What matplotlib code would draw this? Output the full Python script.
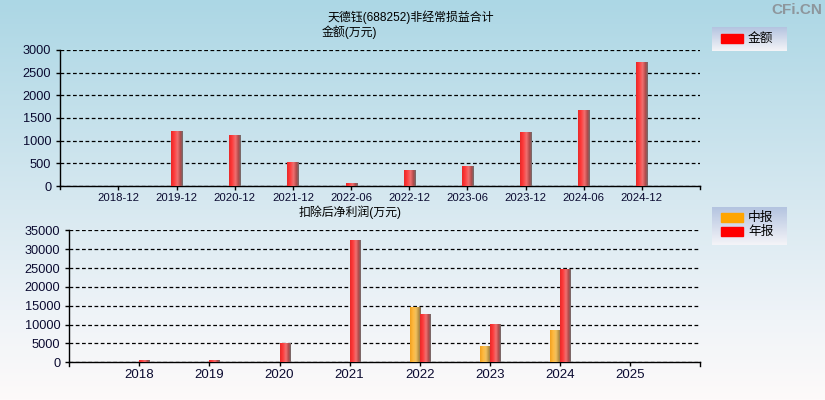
import numpy as np
import matplotlib
matplotlib.use("Agg")
import matplotlib.pyplot as plt
from matplotlib.colors import LinearSegmentedColormap
from matplotlib.patches import Rectangle

plt.rcParams['font.family'] = ['Liberation Sans', 'Noto Sans CJK SC', 'DejaVu Sans']

# ---------------- data ----------------
title_text = "天德钰(688252)非经常损益合计"
top_ylabel = "金额(万元)"
top_categories = ["2018-12", "2019-12", "2020-12", "2021-12", "2022-06",
                  "2022-12", "2023-06", "2023-12", "2024-06", "2024-12"]
top_values = [0, 1215, 1125, 530, 65, 355, 450, 1190, 1675, 2735]
top_legend = "金额"
top_yticks = [0, 500, 1000, 1500, 2000, 2500, 3000]

bottom_ylabel = "扣除后净利润(万元)"
years = ["2018", "2019", "2020", "2021", "2022", "2023", "2024", "2025"]
mid_values = [0, 0, 0, 0, 14650, 4300, 8550, 0]      # 中报
annual_values = [600, 600, 5100, 32400, 12800, 10100, 24750, 0]  # 年报
bottom_legend = ["中报", "年报"]
bottom_yticks = [0, 5000, 10000, 15000, 20000, 25000, 30000, 35000]

# ---------------- style ----------------
W, H = 825, 400
fig = plt.figure(figsize=(W / 100, H / 100), dpi=100)

# background gradient
bg = fig.add_axes([0, 0, 1, 1], zorder=-10)
stops_y = np.array([0, 200, 320, 400]) / 400.0
stops_c = np.array([[172, 215, 229], [214, 232, 240], [240, 244, 248], [253, 250, 250]]) / 255.0
yy = np.linspace(0, 1, 400)
grad = np.stack([np.interp(yy, stops_y, stops_c[:, k]) for k in range(3)], axis=1)
bg.imshow(grad[:, None, :], aspect='auto', extent=(0, 1, 0, 1), origin='upper')
bg.set_axis_off()

red_cmap = LinearSegmentedColormap.from_list(
    "redcyl", [(0.0, "#e82828"), (0.25, "#ff3a3a"), (0.55, "#f07070"),
               (0.8, "#b04848"), (1.0, "#707070")])
org_cmap = LinearSegmentedColormap.from_list(
    "orgcyl", [(0.0, "#f0a020"), (0.3, "#ffba40"), (0.55, "#f0c060"),
               (0.8, "#b89040"), (1.0, "#807060")])


def grad_bar(ax, x, h, w, cmap, align='center'):
    if h <= 0:
        return
    bars = ax.bar([x], [h], width=w, align=align, color='none', linewidth=0, zorder=3)
    r = bars[0]
    x0 = r.get_x()
    x1 = x0 + r.get_width()
    g = np.linspace(0, 1, 64)[None, :]
    im = ax.imshow(g, cmap=cmap, aspect='auto', extent=(x0, x1, 0, h),
                   zorder=3, interpolation='bilinear')
    im.set_clip_path(r)


def style_axes(ax):
    ax.set_facecolor('none')
    for s in ['top', 'right']:
        ax.spines[s].set_visible(False)
    for s in ['left', 'bottom']:
        ax.spines[s].set_color('black')
        ax.spines[s].set_linewidth(1.0)
    ax.tick_params(axis='both', direction='out', length=3, width=1,
                   colors='black', labelcolor='#0a0a30')
    ax.yaxis.grid(True, linestyle=(0, (3, 2)), color='black', linewidth=0.9)
    ax.set_axisbelow(True)


# ---------------- top chart ----------------
ax1 = fig.add_axes([60.3 / W, 1 - 186 / H, (700 - 60.3) / W, (186 - 50) / H])
style_axes(ax1)
xs = np.arange(len(top_categories))
for x, v in zip(xs, top_values):
    grad_bar(ax1, x, v, 0.19, red_cmap)
ax1.set_xlim(-1, len(top_categories))
ax1.set_ylim(0, 3000)
ax1.set_yticks(top_yticks)
ax1.set_xticks(xs)
ax1.set_xticklabels(top_categories, fontsize=8.2)
ax1.tick_params(axis='y', labelsize=9.2)
ax1.tick_params(axis='x', pad=2)
for xe in [-1, len(top_categories)]:
    ax1.plot([xe, xe], [0, -3000 * 3 / 136], color='black', lw=1, clip_on=False, zorder=5)

# ---------------- bottom chart ----------------
ax2 = fig.add_axes([69.3 / W, 1 - 362.3 / H, (700 - 69.3) / W, (362.3 - 230.3) / H])
style_axes(ax2)
xb = np.arange(len(years))
bw = 0.145
for x, m, a in zip(xb, mid_values, annual_values):
    grad_bar(ax2, x - bw, m, bw, org_cmap, align='edge')
    grad_bar(ax2, x, a, bw, red_cmap, align='edge')
ax2.set_xlim(-1, len(years))
ax2.set_ylim(0, 35000)
ax2.set_yticks(bottom_yticks)
ax2.set_xticks(xb)
ax2.set_xticklabels(years, fontsize=9.5)
ax2.tick_params(axis='y', labelsize=9.2)
ax2.tick_params(axis='x', pad=2)
for xe in [-1, len(years)]:
    ax2.plot([xe, xe], [0, -35000 * 4 / 132], color='black', lw=1, clip_on=False, zorder=5)

# ---------------- texts ----------------
fig.text(411 / W, 1 - 17 / H, title_text, ha='center', va='center', fontsize=8.6)
fig.text(349 / W, 1 - 32 / H, top_ylabel, ha='center', va='center', fontsize=8.6)
fig.text(350 / W, 1 - 212 / H, bottom_ylabel, ha='center', va='center', fontsize=8.6)
fig.text(822 / W, 1 - 10 / H, "CFi.CN", ha='right', va='center', fontsize=11,
         fontweight='bold', color='#8e969c')

# ---------------- legends ----------------
lax = fig.add_axes([0, 0, 1, 1], zorder=20)
lax.set_xlim(0, W)
lax.set_ylim(H, 0)
lax.set_axis_off()
lax.patch.set_alpha(0)


def legend_box(x0, y0, x1, y1):
    lg = np.linspace(0, 1, 50)
    c = np.stack([np.interp(lg, [0, 1], [180 / 255, 244 / 255]),
                  np.interp(lg, [0, 1], [196 / 255, 244 / 255]),
                  np.interp(lg, [0, 1], [224 / 255, 248 / 255])], axis=1)
    lax.imshow(c[:, None, :], extent=(x0, x1, y1, y0), aspect='auto', zorder=1)


legend_box(712, 27, 787, 51)
lax.add_patch(Rectangle((721, 34), 22, 8.5, color='#ff0000', zorder=2))
lax.text(748, 38.5, top_legend, va='center', ha='left', fontsize=9.2, zorder=3)

legend_box(712, 207, 787, 245)
lax.add_patch(Rectangle((721, 213), 22, 8.5, color='#ffa500', zorder=2))
lax.add_patch(Rectangle((721, 227), 22, 8.5, color='#ff0000', zorder=2))
lax.text(748, 217.5, bottom_legend[0], va='center', ha='left', fontsize=9.2, zorder=3)
lax.text(748, 231.5, bottom_legend[1], va='center', ha='left', fontsize=9.2, zorder=3)
lax.set_xlim(0, W)
lax.set_ylim(H, 0)

fig.savefig("out.png", dpi=100)
